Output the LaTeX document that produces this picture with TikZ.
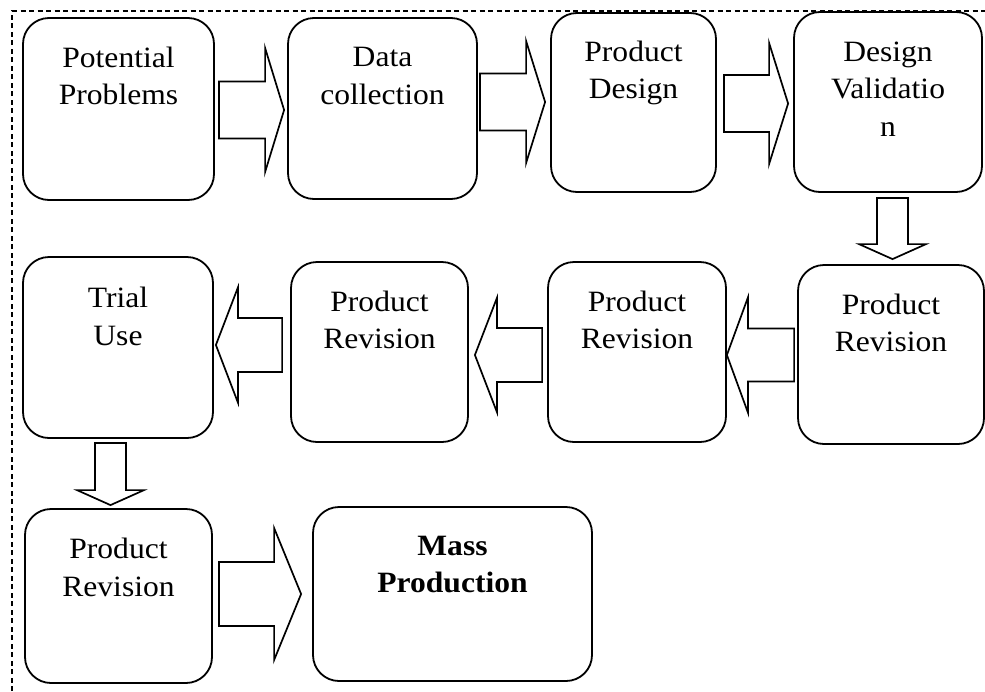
\documentclass[tikz,border=0pt]{standalone}
\usepackage{fontspec}
\setmainfont{Liberation Serif}[FakeStretch=1.07]
\usetikzlibrary{calc}

% block arrows between two named points: #3 shaft half width, #4 head half width, #5 head length
\newcommand\blockright[5]{\draw[barrow] let \p1=(#1), \p2=(#2) in
  (\x1,\y1+#3pt) -- (\x2-#5pt,\y1+#3pt) -- (\x2-#5pt,\y1+#4pt) -- (\x2,\y1)
  -- (\x2-#5pt,\y1-#4pt) -- (\x2-#5pt,\y1-#3pt) -- (\x1,\y1-#3pt) -- cycle;}
\newcommand\blockleft[5]{\draw[barrow] let \p1=(#1), \p2=(#2) in
  (\x1,\y1+#3pt) -- (\x2+#5pt,\y1+#3pt) -- (\x2+#5pt,\y1+#4pt) -- (\x2,\y1)
  -- (\x2+#5pt,\y1-#4pt) -- (\x2+#5pt,\y1-#3pt) -- (\x1,\y1-#3pt) -- cycle;}
\newcommand\blockdown[5]{\draw[barrow] let \p1=(#1), \p2=(#2) in
  (\x1+#3pt,\y1) -- (\x1+#3pt,\y2+#5pt) -- (\x1+#4pt,\y2+#5pt) -- (\x1,\y2)
  -- (\x1-#4pt,\y2+#5pt) -- (\x1-#3pt,\y2+#5pt) -- (\x1-#3pt,\y1) -- cycle;}

\begin{document}
\begin{tikzpicture}[x=1pt, y=-1pt,
  stage/.style={draw=black, line width=1.8pt, rounded corners=26pt, inner sep=0pt},
  caption/.style={anchor=north, align=center, inner sep=0pt,
    font=\fontsize{29.5}{37.5}\selectfont},
  barrow/.style={draw=black, line width=1.7pt, fill=white, line join=miter},
  frame/.style={draw=black, line width=1.4pt, dash pattern=on 5pt off 3.5pt}]
\useasboundingbox (0,0) rectangle (985,691);

% dashed outline
\draw[frame] (12,691) -- (12,11) -- (985,11);

% first row
\node[stage, minimum width=191pt, minimum height=182pt] (pp) at (118.5,109) {};
\node[stage, minimum width=189pt, minimum height=181pt] (dc) at (382.5,108.5) {};
\node[stage, minimum width=165pt, minimum height=179pt] (pd) at (633.5,102.5) {};
\node[stage, minimum width=188pt, minimum height=180pt] (dv) at (888,102) {};

% second row
\node[stage, minimum width=186pt, minimum height=179pt] (pr1) at (891,354.5) {};
\node[stage, minimum width=178pt, minimum height=180pt] (pr2) at (637,352) {};
\node[stage, minimum width=177pt, minimum height=180pt] (pr3) at (379.5,352) {};
\node[stage, minimum width=190pt, minimum height=181pt] (tu) at (118,347.5) {};

% third row
\node[stage, minimum width=187pt, minimum height=174pt] (pr4) at (118.5,596) {};
\node[stage, minimum width=279pt, minimum height=174pt] (mp) at (452.5,594) {};

% box texts
\node[caption] (pp-t) at ($(pp.north)+(0,29.5)$) {Potential\\Problems};
\node[caption] (dc-t) at ($(dc.north)+(0,30)$) {Data\\collection};
\node[caption] (pd-t) at ($(pd.north)+(0,28.5)$) {Product\\Design};
\node[caption] (dv-t) at ($(dv.north)+(0,30.5)$) {Design\\Validatio\\n};
\node[caption] (pr1-t) at ($(pr1.north)+(0,29.5)$) {Product\\Revision};
\node[caption] (pr2-t) at ($(pr2.north)+(0,29.5)$) {Product\\Revision};
\node[caption] (pr3-t) at ($(pr3.north)+(0,29.5)$) {Product\\Revision};
\node[caption] (tu-t) at ($(tu.north)+(0,31)$) {Trial\\Use};
\node[caption] (pr4-t) at ($(pr4.north)+(0,30)$) {Product\\Revision};
\node[caption, font=\fontsize{29.5}{37.5}\selectfont\bfseries] (mp-t) at ($(mp.north)+(0,29.5)$) {Mass\\Production};

% arrow end points
\coordinate (a1s) at ($(pp.east)+(4,1)$);   \coordinate (a1e) at ($(dc.west)+(-3,1.5)$);
\coordinate (a2s) at ($(dc.east)+(2,-6.5)$); \coordinate (a2e) at ($(pd.west)+(-5,-0.5)$);
\coordinate (a3s) at ($(pd.east)+(7,1)$);   \coordinate (a3e) at ($(dv.west)+(-5,1.5)$);
\coordinate (a4s) at ($(dv.south)+(4.5,5)$); \coordinate (a4e) at ($(pr1.north)+(2,-5)$);
\coordinate (a5s) at ($(pr1.west)+(-3,0.5)$); \coordinate (a5e) at ($(pr2.east)+(0,3)$);
\coordinate (a6s) at ($(pr2.west)+(-5,3)$); \coordinate (a6e) at ($(pr3.east)+(6,3)$);
\coordinate (a7s) at ($(pr3.west)+(-8,-7)$); \coordinate (a7e) at ($(tu.east)+(2,-2.5)$);
\coordinate (a8s) at ($(tu.south)+(-7.5,4)$); \coordinate (a8e) at ($(pr4.north)+(-7.5,-3)$);
\coordinate (a9s) at ($(pr4.east)+(6,-2)$); \coordinate (a9e) at ($(mp.west)+(-11,-1)$);

% block arrows
\blockright{a1s}{a1e}{28.5}{62}{19}
\blockright{a2s}{a2e}{28.5}{61}{19}
\blockright{a3s}{a3e}{28.5}{60.5}{19}
\blockdown{a4s}{a4e}{15.5}{33.5}{15}
\blockleft{a5s}{a5e}{26.5}{57.5}{21}
\blockleft{a6s}{a6e}{27}{57}{22}
\blockleft{a7s}{a7e}{27}{57.5}{22}
\blockdown{a8s}{a8e}{15.5}{33.5}{15}
\blockright{a9s}{a9e}{32}{66}{27}
\end{tikzpicture}
\end{document}
